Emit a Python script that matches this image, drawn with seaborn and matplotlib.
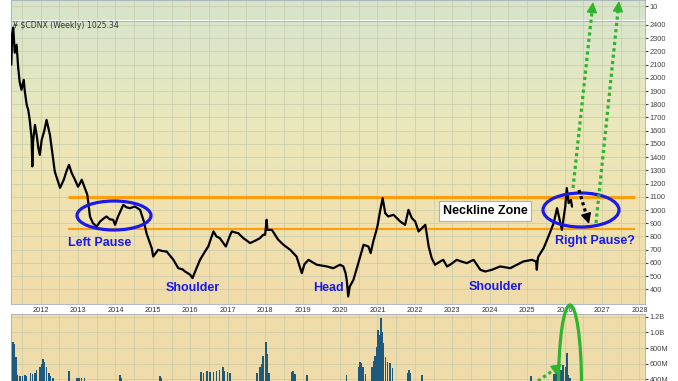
import numpy as np
import pandas as pd
import matplotlib
matplotlib.use("Agg")
import matplotlib.pyplot as plt
import seaborn as sns
from matplotlib.colors import LinearSegmentedColormap
from matplotlib.patches import Ellipse, FancyArrowPatch
from matplotlib.lines import Line2D

# weekly $CDNX (year fraction, index level)
price_dates = [
    2011.22, 2011.24, 2011.27, 2011.31, 2011.36, 2011.40, 2011.44, 2011.49, 2011.55, 2011.58,
    2011.63, 2011.67, 2011.71, 2011.76, 2011.78, 2011.80, 2011.85, 2011.90, 2011.94, 2011.98,
    2012.03, 2012.10, 2012.16, 2012.21, 2012.25, 2012.32, 2012.38, 2012.45, 2012.52, 2012.62,
    2012.70, 2012.76, 2012.83, 2012.92, 2013.00, 2013.05, 2013.10, 2013.18, 2013.25, 2013.32,
    2013.40, 2013.50, 2013.59, 2013.68, 2013.76, 2013.85, 2013.94, 2013.99, 2014.07, 2014.21,
    2014.30, 2014.39, 2014.52, 2014.66, 2014.76, 2014.83, 2014.97, 2015.01, 2015.14, 2015.25,
    2015.37, 2015.55, 2015.68, 2015.80, 2015.86, 2016.00, 2016.06, 2016.13, 2016.26, 2016.38,
    2016.48, 2016.62, 2016.70, 2016.79, 2016.95, 2017.05, 2017.11, 2017.20, 2017.28, 2017.42,
    2017.60, 2017.75, 2017.86, 2017.95, 2018.00, 2018.04, 2018.06, 2018.18, 2018.35, 2018.49,
    2018.67, 2018.84, 2018.98, 2019.05, 2019.16, 2019.38, 2019.65, 2019.82, 2020.00, 2020.09,
    2020.15, 2020.18, 2020.22, 2020.26, 2020.36, 2020.49, 2020.63, 2020.76, 2020.82, 2020.89,
    2021.00, 2021.07, 2021.14, 2021.21, 2021.29, 2021.43, 2021.61, 2021.74, 2021.83, 2021.92,
    2022.01, 2022.10, 2022.19, 2022.28, 2022.37, 2022.45, 2022.54, 2022.68, 2022.76, 2022.86,
    2022.94, 2023.12, 2023.25, 2023.39, 2023.48, 2023.57, 2023.75, 2023.88, 2024.06, 2024.28,
    2024.55, 2024.73, 2024.90, 2025.13, 2025.24, 2025.26, 2025.28, 2025.30, 2025.44, 2025.57,
    2025.71, 2025.80, 2025.87, 2025.93, 2026.02, 2026.06, 2026.11, 2026.17, 2026.20,
]
price_vals = [
    2100, 2330, 2380, 2190, 2250, 2085, 1972, 1909, 1985, 1896,
    1795, 1758, 1682, 1546, 1330, 1520, 1644, 1560, 1470, 1417,
    1531, 1600, 1682, 1620, 1569, 1417, 1291, 1230, 1168, 1229,
    1300, 1342, 1281, 1229, 1176, 1200, 1229, 1168, 1115, 951,
    900, 875, 913, 935, 951, 930, 926, 888, 951, 1039,
    1020, 1014, 1027, 1001, 913, 825, 711, 648, 699, 690,
    686, 623, 560, 550, 535, 510, 485, 535, 623, 680,
    724, 838, 800, 787, 724, 800, 838, 830, 825, 787,
    750, 770, 787, 813, 813, 926, 850, 850, 775, 737,
    699, 648, 522, 590, 623, 586, 573, 560, 586, 573,
    522, 472, 346, 420, 472, 598, 737, 724, 674, 762,
    875, 989, 1090, 976, 951, 964, 913, 888, 1001, 939,
    913, 838, 863, 888, 724, 636, 586, 611, 623, 573,
    586, 623, 610, 598, 611, 623, 548, 535, 548, 573,
    560, 586, 611, 623, 610, 548, 620, 648, 711, 800,
    901, 1014, 926, 850, 1027, 1166, 1052, 1077, 1025.34,
]

# weekly volume tops that show above the panel floor (millions)
vol_dates = [
    2011.23, 2011.27, 2011.31, 2011.34, 2011.39, 2011.45, 2011.52, 2011.58, 2011.63, 2011.73,
    2011.79, 2011.85, 2011.89, 2011.98, 2012.03, 2012.07, 2012.11, 2012.16, 2012.22, 2012.27,
    2012.33, 2012.74, 2012.77, 2012.97, 2013.03, 2013.10, 2013.17, 2014.12, 2014.15, 2015.19,
    2015.22, 2016.29, 2016.36, 2016.45, 2016.53, 2016.62, 2016.70, 2016.78, 2016.87, 2016.92,
    2016.99, 2017.06, 2017.78, 2017.86, 2017.91, 2017.94, 2018.02, 2018.06, 2018.10, 2018.72,
    2018.75, 2018.80, 2019.12, 2020.18, 2020.50, 2020.54, 2020.58, 2020.62, 2020.68, 2020.85,
    2020.89, 2020.94, 2020.98, 2021.02, 2021.06, 2021.10, 2021.13, 2021.15, 2021.21, 2021.27,
    2021.34, 2021.40, 2021.80, 2021.85, 2021.89, 2022.19, 2025.11, 2025.72, 2025.77, 2025.90,
    2025.96, 2026.02, 2026.06, 2026.10, 2026.15,
]
vol_vals = [
    860, 880, 850, 690, 457, 450, 440, 455, 450, 480,
    470, 485, 520, 563, 600, 660, 627, 560, 480, 450,
    420, 505, 512, 415, 420, 425, 418, 457, 420, 440,
    420, 500, 480, 505, 500, 490, 505, 520, 560, 510,
    495, 480, 480, 560, 600, 700, 880, 720, 480, 500,
    512, 470, 457, 457, 560, 627, 610, 560, 470, 560,
    640, 700, 818, 1030, 960, 1180, 1000, 860, 690, 620,
    610, 540, 480, 520, 480, 457, 440, 470, 480, 520,
    585, 560, 740, 460, 420,
]

neck_top = 1100
neck_bottom = 860
year_ticks = list(range(2012, 2029))
price_ticks = list(range(400, 2500, 100))
vol_ticks = [400, 600, 800, 1000, 1200]
vol_labels = ["400M", "600M", "800M", "1.0B", "1.2B"]

df = pd.DataFrame({"date": price_dates, "close": price_vals})

sns.set_style("white")
plt.rcParams["font.family"] = ["Liberation Sans", "DejaVu Sans"]

W, H = 678, 381
fig = plt.figure(figsize=(W / 100, H / 100), dpi=100)


def fx(x):
    return x / W


def fy(y):
    return 1 - y / H


def box(x0, y0, x1, y1):
    return [x0 / W, 1 - y1 / H, (x1 - x0) / W, (y1 - y0) / H]


ax_top = fig.add_axes(box(11, 0, 645, 20.5))
ax = fig.add_axes(box(11, 21, 645, 304))
ax_vol = fig.add_axes(box(11, 313.5, 645, 410.9))

xlim = (2011.21, 2028.15)
grid_kw = dict(color="#c6cbab", lw=0.5)
half_years = np.arange(2011.5, 2028.2, 0.5)


def background(a, colors):
    cmap = LinearSegmentedColormap.from_list("bg", colors)
    grad = np.linspace(0, 1, 256).reshape(-1, 1)
    a.imshow(grad, extent=[0, 1, 0, 1], transform=a.transAxes, aspect="auto",
             cmap=cmap, zorder=0, origin="upper")


background(ax_top, ["#d5e3c8", "#d8e5c9"])
background(ax, ["#d9e5ca", "#e9e8bd", "#f0e2b0", "#f0dcaa"])
background(ax_vol, ["#efdcaa", "#efdcaa"])

for a in (ax_top, ax, ax_vol):
    a.set_xlim(*xlim)
    a.set_xticks(year_ticks)
    a.set_xticks(half_years, minor=True)
    a.grid(True, which="both", axis="x", **grid_kw)
    a.grid(True, which="major", axis="y", **grid_kw)
    a.set_axisbelow(True)
    a.yaxis.tick_right()
    a.tick_params(axis="y", which="both", length=2, pad=1.5, labelsize=5.3,
                  colors="#444444", right=True, left=False)
    a.tick_params(axis="x", which="both", length=0, labelbottom=False)
    for s in a.spines.values():
        s.set_color("#a4adb5")
        s.set_linewidth(0.6)

# top indicator strip
ax_top.set_ylim(0, 14.14)
ax_top.set_yticks([10])
ax_top.set_yticklabels(["10"])

# price panel
ax.hlines(neck_top, 2012.73, 2027.87, color="#ff9d0a", lw=2.2, zorder=2)
ax.hlines(neck_bottom, 2012.73, 2027.87, color="#ff9d0a", lw=1.5, zorder=2)
sns.lineplot(data=df, x="date", y="close", ax=ax, color="black", linewidth=1.6,
             estimator=None, sort=False, zorder=3)
ax.set_xlim(*xlim)
ax.set_ylim(289, 2430)
ax.set_yticks(price_ticks)
ax.set_xlabel("")
ax.set_ylabel("")
ax.tick_params(axis="x", which="major", labelbottom=True, labelsize=5.3,
               pad=2, colors="#333333")

# volume panel
ax_vol.bar(vol_dates, vol_vals, width=0.04, color="#1e5a7d", edgecolor="none",
           linewidth=0, zorder=2)
ax_vol.set_ylim(0, 1240)
ax_vol.set_yticks(vol_ticks)
ax_vol.set_yticklabels(vol_labels)

fig.text(fx(13), fy(26), "\u00a5 $CDNX (Weekly) 1025.34", fontsize=5.6,
         family="DejaVu Sans", color="#333333", va="center", ha="left")

# annotations
blue = "#1a1ae8"
green = "#2db52d"
lab_kw = dict(color=blue, fontsize=9, fontweight="bold", va="center")
fig.text(fx(68), fy(243), "Left Pause", ha="left", **lab_kw)
fig.text(fx(193), fy(288), "Shoulder", ha="center", **lab_kw)
fig.text(fx(328), fy(288), "Head", ha="center", **lab_kw)
fig.text(fx(496), fy(287), "Shoulder", ha="center", **lab_kw)
fig.text(fx(555), fy(241), "Right Pause?", ha="left", **lab_kw)
fig.text(fx(485), fy(211), "Neckline Zone", ha="center", va="center", fontsize=9,
         fontweight="bold", color="black",
         bbox=dict(boxstyle="square,pad=0.3", facecolor="white", edgecolor="#b0b0b0", lw=0.8))

for cx, cy, w, h, col in [(114, 215.5, 74, 29, blue), (581, 210, 76, 34, blue),
                          (570, 385, 23, 160, green)]:
    fig.add_artist(Ellipse((fx(cx), fy(cy)), w / W, h / H, transform=fig.transFigure,
                           fill=False, edgecolor=col, lw=2.3, zorder=5))


def dotted_arrow(x0, y0, x1, y1, color):
    dx, dy = x1 - x0, y1 - y0
    n = np.hypot(dx, dy)
    ux, uy = dx / n, dy / n
    hx, hy = x1 - ux * 8, y1 - uy * 8
    fig.add_artist(Line2D([fx(x0), fx(hx)], [fy(y0), fy(hy)], color=color, lw=2.3,
                          linestyle=(0, (1, 1)), transform=fig.transFigure, zorder=6))
    fig.add_artist(FancyArrowPatch((fx(hx), fy(hy)), (fx(x1), fy(y1)),
                                   arrowstyle="-|>", mutation_scale=16, color=color,
                                   lw=1, shrinkA=0, shrinkB=0,
                                   transform=fig.transFigure, zorder=6))


dotted_arrow(573, 188, 593, 2, green)
dotted_arrow(596, 223, 619, 1, green)
dotted_arrow(579, 190, 589, 224, "black")
dotted_arrow(538, 381, 562, 364, green)

fig.savefig("out.png", dpi=100)
